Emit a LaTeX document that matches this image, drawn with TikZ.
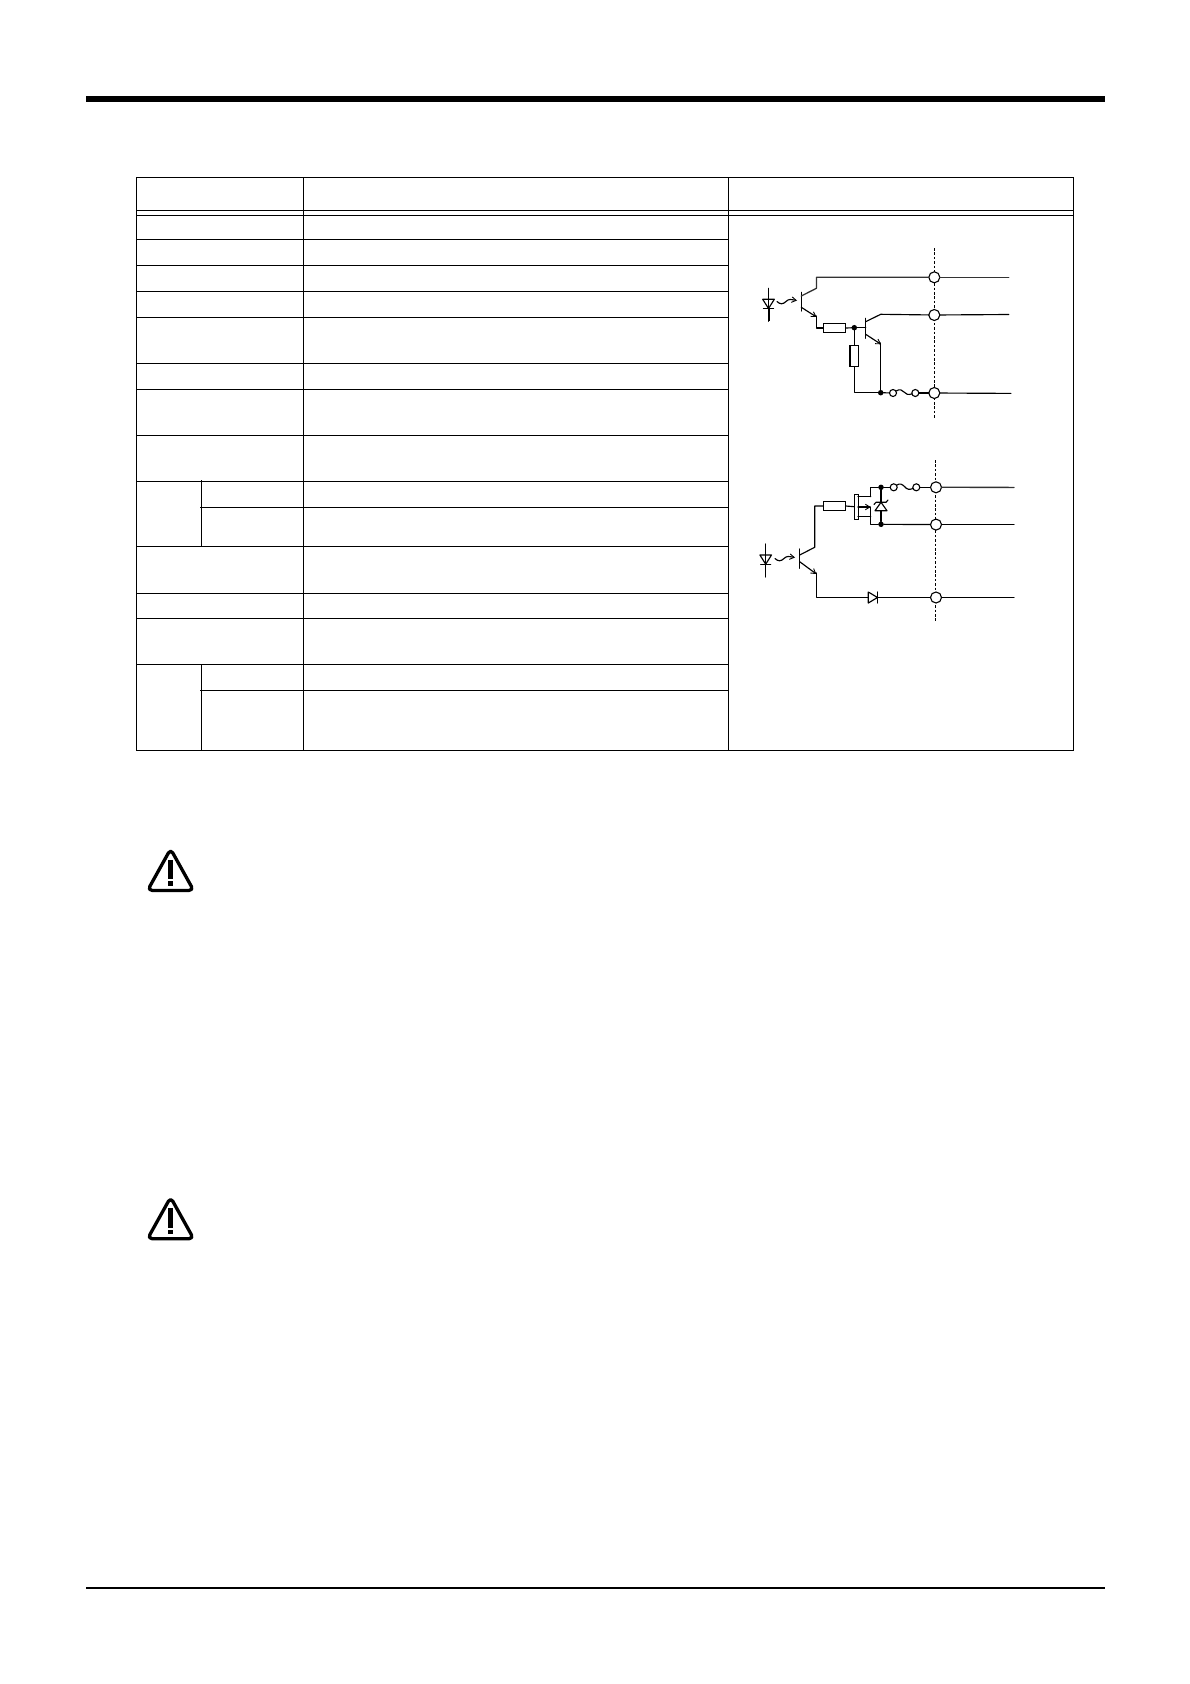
\documentclass[tikz,border=0pt]{standalone}
\usetikzlibrary{arrows.meta}
\tikzset{
  grid/.style={line width=1.1pt,black},
  wire/.style={line width=1.15pt,black,line cap=round,line join=round},
  bus/.style={wire,draw=black!80,line width=1.3pt},
  barbwire/.style={wire,-{Straight Barb[length=4.5pt,width=5.5pt,line width=.9pt]}},
  term/.style={circle,draw=black,fill=white,line width=1.1pt,minimum size=11pt,inner sep=0pt,outer sep=0pt},
  fusepin/.style={circle,draw=black,fill=white,line width=1.1pt,minimum size=7pt,inner sep=0pt,outer sep=0pt},
  junction/.style={circle,fill=black,minimum size=5.5pt,inner sep=0pt,outer sep=0pt},
  resH/.style={draw=black,fill=white,line width=1.1pt,minimum width=22.4pt,minimum height=8.4pt,inner sep=0pt,outer sep=0pt},
  resV/.style={draw=black,fill=white,line width=1.1pt,minimum width=8.6pt,minimum height=21.4pt,inner sep=0pt,outer sep=0pt},
  cut/.style={line width=.9pt,black,dash pattern=on 2.6pt off 1.8pt},
  photo/.pic={\draw[barbwire] (0,0) .. controls (3,3) and (6,3) .. (9,0) .. controls (12,-3) and (14,-2) .. (20,-1);},
  led/.pic={
    \draw[wire] (0,-13) -- (0,20);
    \draw[wire,fill=white] (-5.8,-2) -- (5.8,-2) -- (0,7.2) -- cycle;
    \draw[wire] (-5,7.2) -- (5,7.2);
    \draw[wire] (0,-2) -- (0,7.2);},
  caution/.pic={
    \draw[line width=3.3pt,black,rounded corners=4.5pt,line join=round] (0,-43) -- (23,-1.6) -- (-23,-1.6) -- cycle;
    \fill[black] (-2.6,-32) rectangle (2.7,-12.7);
    \fill[black] (-2.6,-10.7) rectangle (2.7,-6.2);}
}
\begin{document}
\begin{tikzpicture}[x=1pt,y=-1pt]
\useasboundingbox (0,0) rectangle (1190,1684);
% page rules
\fill[black] (86,96) rectangle (1105,102);
\fill[black] (86,1587) rectangle (1105,1589);
% table frame and rules
\draw[grid] (136.4,177.3) rectangle (1073.3,750.3);
\draw[grid] (136.4,210.3) -- (1073.3,210.3);
\draw[grid] (136.4,215.3) -- (1073.3,215.3);
\foreach \yy in {239.3,265.3,291.3,317.3,363.3,389.3,435.3,481.3,546.3,593.3,618.3,664.3}
  \draw[grid] (136.4,\yy) -- (728.7,\yy);
\draw[grid] (200,507.3) -- (728.7,507.3);
\draw[grid] (200,690.3) -- (728.7,690.3);
\draw[grid] (303.5,177.3) -- (303.5,750.3);
\draw[grid] (728.7,177.3) -- (728.7,750.3);
\draw[grid] (201.3,480) -- (201.3,547.3);
\draw[grid] (201.3,664.3) -- (201.3,750.3);
% caution marks
\pic (cautionA) at (170.6,892) {caution};
\pic (cautionB) at (170.6,1240.3) {caution};

% ---- upper circuit ----
\draw[cut] (934.3,248) -- (934.3,418);
\node[term] (t1) at (934.3,277.3) {};
\node[term] (t2) at (934.3,315) {};
\node[term] (t3) at (934.3,393) {};
\coordinate (o1) at (1008.7,277.3);
\coordinate (o2) at (1008.7,314.5);
\coordinate (o3) at (1011,393.4);
\node[resH] (r1) at (834.5,328) {};
\node[resV] (r2) at (854.3,356) {};
\node[junction] (j1) at (854.3,327.7) {};
\node[junction] (j2) at (880.7,392.7) {};
\node[fusepin] (f1) at (893,393) {};
\node[fusepin] (f2) at (915.3,393) {};
\draw[bus] (t1) -- (o1);
\draw[wire] (t2) -- (o2);
\draw[wire] (t3) -- (o3);
% first transistor
\draw[wire] (801.3,292.3) -- (801.3,311);
\draw[bus] (t1) -- (816.4,277.3) -- (816.4,288.3) -- (801.3,296);
\draw[barbwire] (801.3,307.3) -- (816.5,317);
\draw[wire] (816.4,316) |- (r1.west);
\draw[wire] (r1.east) -- (j1);
\draw[wire] (j1) -- (865.7,327.7);
\draw[wire] (j1) -- (r2.north);
\draw[wire] (r2.south) |- (j2);
% second transistor
\draw[wire] (865.7,318.3) -- (865.7,338.3);
\draw[wire] (t2) -- (880.7,314.3) -- (865.7,321.7);
\draw[barbwire] (865.7,334.3) -- (881,344.3);
\draw[wire] (880.7,343) -- (j2);
\draw[wire] (j2) -- (f1);
\draw[wire] (f1) .. controls (900,388.5) and (902,390) .. (904,392) .. controls (906,394.5) and (908,395) .. (f2);
\draw[wire] (f2) -- (t3);
\pic (ledA) at (768.5,301.3) {led};
\draw[wire,line width=2pt,line cap=butt] (768.5,308.5) -- (768.5,321);
\pic (photoA) at (777,301.5) {photo};

% ---- lower circuit ----
\draw[cut] (935.3,460) -- (935.3,621.7);
\node[term] (t4) at (936,487.3) {};
\node[term] (t5) at (936,524.6) {};
\node[term] (t6) at (936,597.5) {};
\coordinate (o4) at (1014,487.4);
\coordinate (o5) at (1014,524.6);
\coordinate (o6) at (1014,597.5);
\draw[bus] (t4) -- (o4);
\draw[wire] (t5) -- (o5);
\draw[wire] (t6) -- (o6);
\node[resH] (r3) at (834.5,506) {};
\node[junction] (j3) at (881,487.3) {};
\node[junction] (j4) at (881,524.3) {};
\node[fusepin] (f3) at (893.7,487.3) {};
\node[fusepin] (f4) at (916.3,487.3) {};
\draw[wire] (f4) -- (t4);
\draw[wire] (f3) .. controls (900,482.8) and (902,484.3) .. (904.5,486.5) .. controls (907,489.5) and (909,490) .. (f4);
\draw[wire] (870.7,496.7) |- (j3);
\draw[wire] (j3) -- (f3);
% MOSFET
\node[draw=black,fill=white,line width=1.1pt,minimum width=3.8pt,minimum height=25pt,inner sep=0pt,outer sep=0pt] (gate) at (856.2,506.7) {};
\draw[wire] (858,496.7) -- (870.7,496.7);
\draw[wire] (858,516.7) -- (870.7,516.7);
\draw[barbwire] (858,507) -- (870.7,507);
\draw[wire] (870.7,507) -- (870.7,524.3) -- (j4);
\draw[wire] (j4) -- (t5);
\draw[wire] (r3.east) -- (gate.west);
% zener
\draw[wire] (j3) -- (j4);
\draw[wire,fill=white] (875,510.7) -- (887,510.7) -- (881,502.3) -- cycle;
\draw[wire] (874,504.5) -- (876,502.3) -- (886,502.3) -- (888,500);
% third transistor
\draw[wire] (799.7,549) -- (799.7,568.3);
\draw[wire] (r3.west) -- (814.7,506) -- (814.7,547.3) -- (799.7,555);
\draw[barbwire] (799.7,561.7) -- (816.3,574);
\draw[wire] (816.4,573) |- (t6);
\draw[wire,fill=white] (868.3,592) -- (877.5,597.5) -- (868.3,603) -- cycle;
\draw[wire] (877.7,592) -- (877.7,603);
\pic (ledB) at (765.7,557) {led};
\pic (photoB) at (775,558.5) {photo};
\end{tikzpicture}
\end{document}
